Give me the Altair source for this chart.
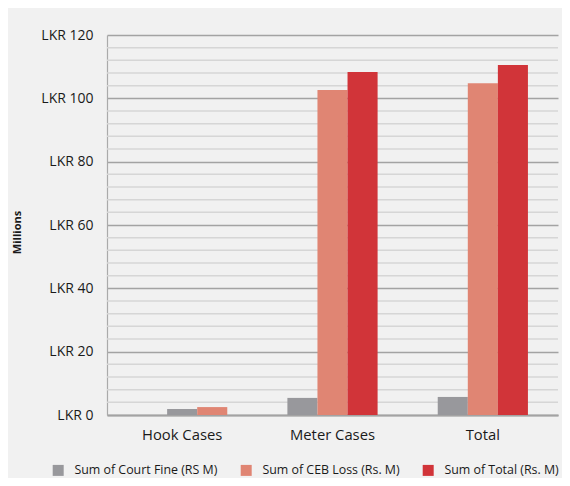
import altair as alt
import pandas as pd

categories = ["Hook Cases", "Meter Cases", "Total"]
series = ["Sum of Court Fine (RS M)", "Sum of CEB Loss (Rs. M)", "Sum of Total (Rs. M)"]
colors = ["#98989c", "#e08573", "#d13439"]

court_fine = [1.9, 5.4, 5.7]
ceb_loss = [2.5, 102.6, 104.8]
total = [None, 108.3, 110.5]

# slot where each category's first bar sits (Hook Cases bars are drawn one slot to the right)
group_start = [1, 0, 0]

major_ticks = [0, 20, 40, 60, 80, 100, 120]
minor_ticks = [v for v in range(0, 121, 4) if v % 20]

rows = []
for i, cat in enumerate(categories):
    for j, vals in enumerate([court_fine, ceb_loss, total]):
        if vals[i] is None:
            continue
        rows.append({"category": cat, "series": series[j], "value": vals[i], "slot": group_start[i] + j})
df = pd.DataFrame(rows)
grid_df = pd.DataFrame({"value": minor_ticks})

FONT = "Open Sans"

y_axis = alt.Axis(
    values=major_ticks,
    labelExpr="'LKR ' + datum.value",
    title="Millions",
    titleFontSize=11,
    titleFontWeight="bold",
    titleColor="#1a1a1a",
    titleFont=FONT,
    titleX=-90,
    titleY=197,
    titleAngle=-90,
    titleAlign="center",
    titleBaseline="middle",
    labelFont=FONT,
    labelFontSize=14,
    labelColor="#1a1a1a",
    labelPadding=14,
    ticks=False,
    domainColor="#aaaaaa",
    domainWidth=1.2,
    gridColor="#a3a3a3",
    gridWidth=1.5,
)

y_scale = alt.Scale(domain=[0, 120], nice=False, zero=True)

minor = alt.Chart(grid_df).mark_rule(color="#d6d6d6", strokeWidth=1.5).encode(
    y=alt.Y("value:Q", scale=y_scale, axis=y_axis)
)

bars = alt.Chart(df).mark_bar().encode(
    x=alt.X(
        "category:N",
        sort=categories,
        scale=alt.Scale(paddingInner=0.4, paddingOuter=0.2),
        axis=alt.Axis(
            title=None,
            labelAngle=0,
            labelFont=FONT,
            labelFontSize=14.8,
            labelColor="#1a1a1a",
            labelPadding=12,
            ticks=False,
            domainColor="#a3a3a3",
            domainWidth=2,
            grid=False,
        ),
    ),
    xOffset=alt.XOffset("slot:O", scale=alt.Scale(domain=[0, 1, 2], paddingInner=0, paddingOuter=0)),
    y=alt.Y("value:Q", scale=y_scale, axis=y_axis),
    color=alt.Color(
        "series:N",
        scale=alt.Scale(domain=series, range=colors),
        legend=alt.Legend(
            title=None,
            orient="none",
            direction="horizontal",
            legendX=-55,
            legendY=429,
            symbolType="square",
            symbolSize=121,
            symbolStrokeWidth=0,
            symbolOpacity=1,
            labelFont=FONT,
            labelFontSize=12.4,
            labelColor="#1a1a1a",
            labelOffset=10,
            columnPadding=22,
        ),
    ),
)

chart = (
    alt.layer(minor, bars)
    .properties(
        width=451,
        height=380,
        autosize=alt.AutoSizeParams(type="none"),
        padding={"left": 99, "top": 27, "right": 4, "bottom": 63},
        background="#f1f1f1",
    )
    .configure_view(stroke=None)
)

chart.save("out.html", embed_options={"renderer": "svg", "actions": False})
